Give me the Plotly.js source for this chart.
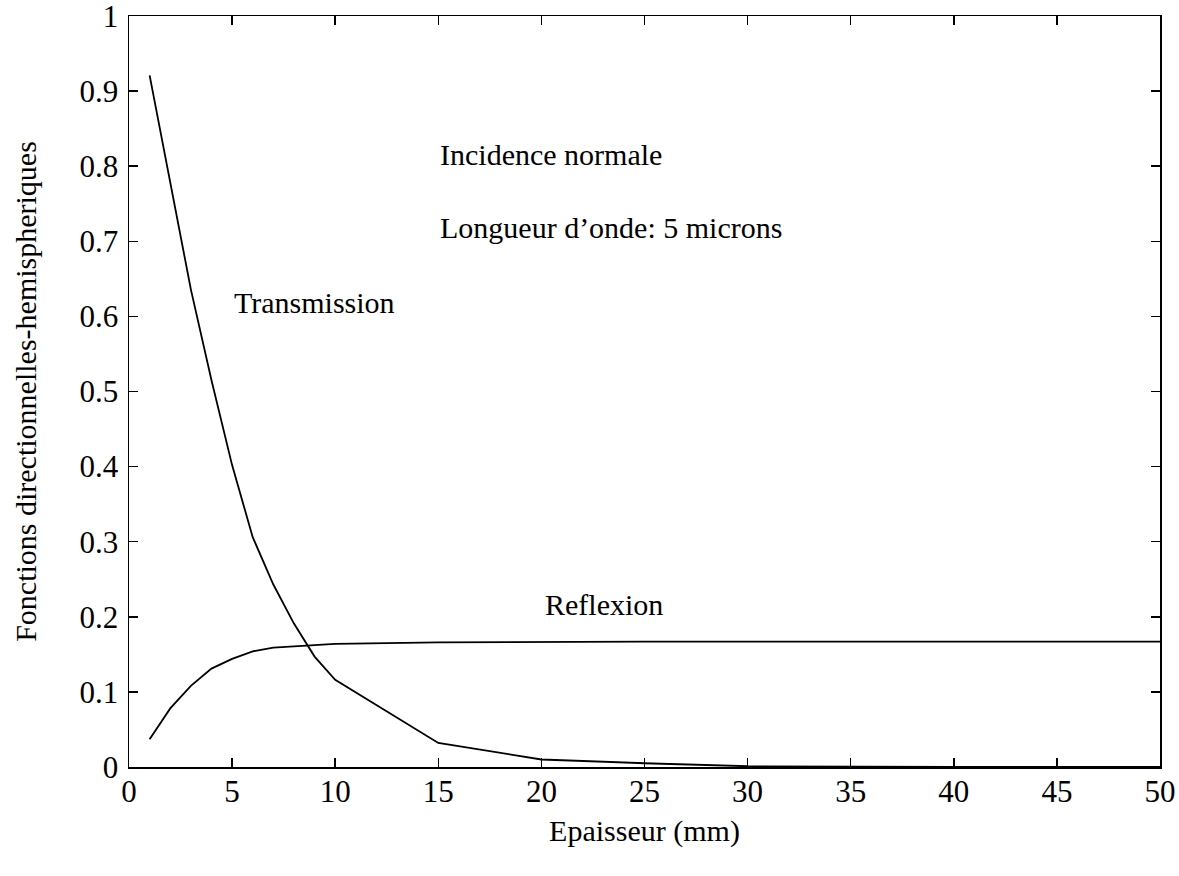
<!DOCTYPE html>
<html>
<head>
<meta charset="utf-8">
<script src="https://cdn.plot.ly/plotly-3.0.1.min.js"></script>
<style>html,body{margin:0;padding:0;background:#fff;}#chart{width:1179px;height:876px;}</style>
</head>
<body>
<div id="chart"></div>
<script>
// Epaisseur (mm)
const thickness = [1, 2, 3, 4, 5, 6, 7, 8, 9, 10, 15, 20, 25, 30, 35, 40, 45, 50];
// Transmission directionnelle-hemispherique
const transmission = [0.921, 0.781, 0.636, 0.515, 0.402, 0.306, 0.243, 0.191, 0.147, 0.116, 0.032, 0.010, 0.005, 0.001, 0, 0, 0, 0];
// Reflexion directionnelle-hemispherique
const reflexion = [0.037, 0.078, 0.108, 0.131, 0.144, 0.154, 0.159, 0.161, 0.163, 0.164, 0.166, 0.167, 0.167, 0.167, 0.167, 0.167, 0.167, 0.167];

const labels = [
  {text: 'Incidence normale', x: 15, y: 0.815},
  {text: 'Longueur d\u2019onde: 5 microns', x: 15, y: 0.719},
  {text: 'Transmission', x: 5, y: 0.618},
  {text: 'Reflexion', x: 20.1, y: 0.217}
];

const font = 'Liberation Serif, Times New Roman, serif';

const traces = [
  {x: thickness, y: transmission, mode: 'lines', line: {color: '#000', width: 1.8}, name: 'Transmission'},
  {x: thickness, y: reflexion, mode: 'lines', line: {color: '#000', width: 1.8}, name: 'Reflexion'}
];

const layout = {
  width: 1179, height: 876,
  margin: {l: 129, r: 19, t: 16, b: 109},
  showlegend: false,
  paper_bgcolor: '#fff', plot_bgcolor: '#fff',
  font: {family: font, size: 30, color: '#000'},
  xaxis: {
    range: [0, 50], dtick: 5, tick0: 0,
    showgrid: false, zeroline: false,
    showline: true, mirror: 'ticks', linecolor: '#000', linewidth: 1.5,
    ticks: 'inside', ticklen: 9, tickwidth: 1.5, tickcolor: '#000',
    tickfont: {family: font, size: 31},
    ticklabeloverflow: 'allow', ticklabelstandoff: -4,
    title: {text: 'Epaisseur (mm)', font: {family: font, size: 30}, standoff: 12}
  },
  yaxis: {
    range: [0, 1], dtick: 0.1, tick0: 0,
    showgrid: false, zeroline: false,
    showline: true, mirror: 'ticks', linecolor: '#000', linewidth: 1.5,
    ticks: 'inside', ticklen: 9, tickwidth: 1.5, tickcolor: '#000',
    tickfont: {family: font, size: 31},
    ticklabeloverflow: 'allow', ticklabelstandoff: 3,
    title: {text: 'Fonctions directionnelles-hemispheriques', font: {family: font, size: 30}, standoff: 34}
  },
  annotations: labels.map(l => ({
    text: l.text, x: l.x, y: l.y, xref: 'x', yref: 'y',
    xanchor: 'left', yanchor: 'middle', showarrow: false,
    font: {family: font, size: 30, color: '#000'}
  }))
};

Plotly.newPlot('chart', traces, layout, {displayModeBar: false, staticPlot: true});
</script>
</body>
</html>
